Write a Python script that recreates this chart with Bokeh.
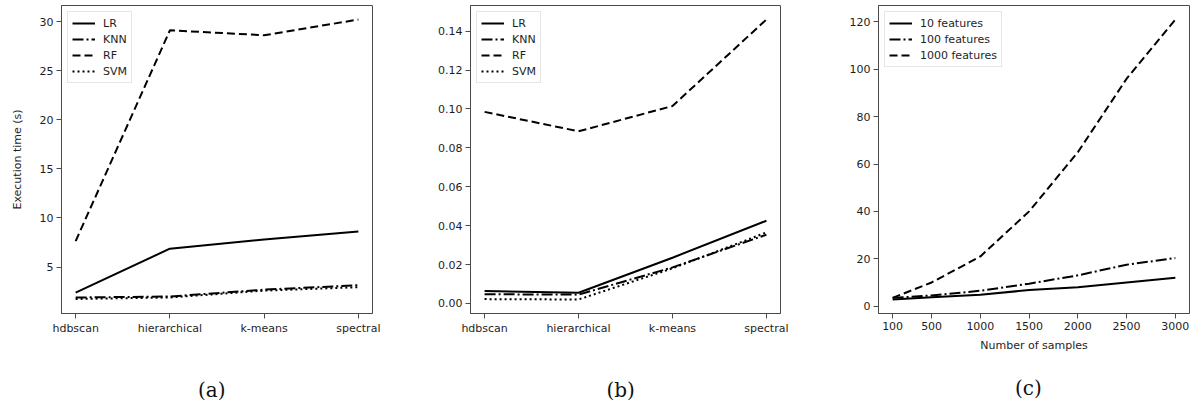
from bokeh.plotting import figure
from bokeh.layouts import row
from bokeh.models import Range1d, FixedTicker, NumeralTickFormatter, Legend, LegendItem, Title
from bokeh.embed import file_html
from bokeh.resources import INLINE

# ---- data ----
methods = ["hdbscan", "hierarchical", "k-means", "spectral"]

a_LR = [2.4, 6.87, 7.8, 8.63]
a_KNN = [1.9, 2.0, 2.7, 3.15]
a_RF = [7.64, 29.1, 28.6, 30.2]
a_SVM = [1.75, 1.9, 2.6, 2.95]

b_LR = [0.0064, 0.0055, 0.0235, 0.0425]
b_KNN = [0.0047, 0.0045, 0.0185, 0.0353]
b_RF = [0.0985, 0.0885, 0.1015, 0.146]
b_SVM = [0.0022, 0.0020, 0.0180, 0.0365]

samples = [100, 500, 1000, 1500, 2000, 2500, 3000]
f10 = [2.8, 3.8, 4.8, 6.8, 8.0, 10.0, 12.0]
f100 = [3.5, 4.5, 6.5, 9.5, 13.0, 17.5, 20.3]
f1000 = [3.5, 10.0, 21.0, 40.0, 65.0, 96.0, 121.0]

a_yticks = [5, 10, 15, 20, 25, 30]
b_yticks = [0.0, 0.02, 0.04, 0.06, 0.08, 0.10, 0.12, 0.14]
c_yticks = [0, 20, 40, 60, 80, 100, 120]

TXT = "#1e1e1e"
AX = "#4a4a4a"
FONT = "DejaVu Sans"
DASHES = {"solid": "solid", "dashdot": "11 3 2 3", "dashed": "8 4", "dotted": "2 3"}

FIG_H = 405
TOP = 5
FRAME_H = 308


def make_fig(bl, fw, br, xr, yr):
    p = figure(width=bl + fw + br, height=FIG_H, frame_width=fw, frame_height=FRAME_H,
               x_range=xr, y_range=yr, output_backend="svg", toolbar_location=None,
               min_border_left=bl, min_border_right=br, min_border_top=TOP,
               min_border_bottom=FIG_H - FRAME_H - TOP)
    p.xgrid.visible = False
    p.ygrid.visible = False
    p.outline_line_color = AX
    p.outline_line_width = 1
    p.outline_line_alpha = 1
    p.background_fill_color = "white"
    p.border_fill_color = "white"
    for ax in (p.xaxis[0], p.yaxis[0]):
        ax.axis_line_color = AX
        ax.major_tick_line_color = AX
        ax.major_tick_out = 5
        ax.major_tick_in = 0
        ax.minor_tick_line_color = None
        ax.major_label_text_font = FONT
        ax.major_label_text_font_size = "11px"
        ax.major_label_text_color = TXT
        ax.major_label_standoff = 3
        ax.axis_label_text_font = FONT
        ax.axis_label_text_font_size = "11px"
        ax.axis_label_text_color = TXT
        ax.axis_label_text_font_style = "normal"
    return p


def add_lines(p, x, series, labels, styles):
    items = []
    for ys, lab, st in zip(series, labels, styles):
        r = p.line(x, ys, line_color="black", line_width=2, line_dash=DASHES[st])
        items.append(LegendItem(label=lab, renderers=[r]))
    leg = Legend(items=items, location="top_left", margin=6, padding=4, spacing=2,
                 label_height=14, glyph_height=14, glyph_width=23, label_standoff=8,
                 label_text_font=FONT, label_text_font_size="11px", label_text_color=TXT,
                 border_line_color="#cccccc", border_line_width=1,
                 background_fill_color="white", background_fill_alpha=0.85)
    p.add_layout(leg, "center")


def caption(p, text, fw, standoff):
    p.add_layout(Title(text=text, align="left", offset=fw / 2 - 5 - 14, standoff=standoff,
                       vertical_align="top",
                       text_font="DejaVu Serif", text_font_size="20px", text_color="#111111",
                       text_font_style="normal"), "below")


xi = list(range(len(methods)))
overrides = {i: m for i, m in enumerate(methods)}

# (a)
fa = make_fig(61, 311, 44, Range1d(-0.15, 3.15), Range1d(0.27, 31.63))
fa.xaxis.ticker = FixedTicker(ticks=xi)
fa.xaxis.major_label_overrides = overrides
fa.yaxis.ticker = FixedTicker(ticks=a_yticks)
fa.yaxis.axis_label = "Execution time (s)"
fa.yaxis.axis_label_standoff = 13
add_lines(fa, xi, [a_LR, a_KNN, a_RF, a_SVM], ["LR", "KNN", "RF", "SVM"],
          ["solid", "dashdot", "dashed", "dotted"])
caption(fa, "(a)", 311, 80)

# (b)
fb = make_fig(54, 310, 46, Range1d(-0.15, 3.15), Range1d(-0.0052, 0.1532))
fb.xaxis.ticker = FixedTicker(ticks=xi)
fb.xaxis.major_label_overrides = overrides
fb.yaxis.ticker = FixedTicker(ticks=b_yticks)
fb.yaxis.formatter = NumeralTickFormatter(format="0.00")
add_lines(fb, xi, [b_LR, b_KNN, b_RF, b_SVM], ["LR", "KNN", "RF", "SVM"],
          ["solid", "dashdot", "dashed", "dotted"])
caption(fb, "(b)", 310, 80)

# (c)
fc = make_fig(52, 311, 7, Range1d(-45, 3145), Range1d(-3.1, 126.9))
fc.xaxis.ticker = FixedTicker(ticks=samples)
fc.yaxis.ticker = FixedTicker(ticks=c_yticks)
fc.xaxis.axis_label = "Number of samples"
fc.xaxis.axis_label_standoff = 6
add_lines(fc, samples, [f10, f100, f1000], ["10 features", "100 features", "1000 features"],
          ["solid", "dashdot", "dashed"])
caption(fc, "(c)", 311, 42)

layout = row(fa, fb, fc)
open("out.html", "w").write(file_html(layout, INLINE))
